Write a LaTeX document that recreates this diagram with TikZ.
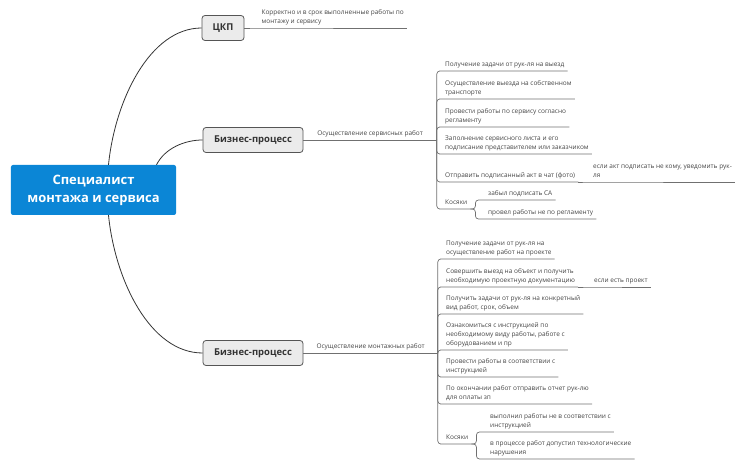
\documentclass[tikz,border=0pt]{standalone}
\usepackage{fontspec}
\setmainfont{Open Sans}
\usetikzlibrary{calc,positioning}
\definecolor{hubblue}{HTML}{0B86D6}
\definecolor{topicgray}{HTML}{EBEBEB}
\definecolor{edgegray}{HTML}{555555}
\definecolor{leafgray}{HTML}{454545}
\definecolor{linegray}{HTML}{707070}

\begin{document}
\begin{tikzpicture}[x=1bp, y=-1bp]
    % Styles
    \tikzstyle{hub} = [rectangle, fill=hubblue, text=white, rounded corners=2bp,
        minimum width=165bp, minimum height=50bp, align=center,
        font=\fontsize{13}{18}\selectfont\bfseries]
    \tikzstyle{topic} = [rectangle, draw=edgegray, fill=topicgray, rounded corners=3bp,
        line width=0.8bp, minimum height=25bp, inner xsep=4bp, text=black!80,
        font=\fontsize{9.5}{11}\selectfont\bfseries]
    \tikzstyle{leaf} = [anchor=south west, inner xsep=3bp, inner ysep=2.5bp,
        text depth=1.8bp, align=left, text=leafgray, font=\fontsize{6.5}{8.8}\selectfont]
    \tikzstyle{curve} = [draw=black!80, line width=0.8bp]
    \tikzstyle{fork} = [draw=linegray, line width=0.7bp, rounded corners=3bp]

    \useasboundingbox (0,0) rectangle (751,465);

    % === CENTRE AND MAIN TOPICS ===
    \node [hub] (hub) at (93.5,190) {Специалист\\монтажа и сервиса};
    \node [topic, minimum width=42bp] (ckp) at (223,28) {ЦКП};
    \node [topic, minimum width=100bp] (bpservice) at (253,140) {Бизнес-процесс};
    \node [topic, minimum width=100bp] (bpmount) at (253,353) {Бизнес-процесс};

    % ЦКП
    \node [leaf] (ckpresult) at ($(ckp.east)+(14,0)$) {Корректно и в срок выполненные работы по\\монтажу и сервису};

    % === SERVICE BRANCH ===
    \node [leaf, minimum width=133bp, align=center] (svcwork) at (bpservice.east) {Осуществление сервисных работ};
    \node [leaf] (svcget) at (442,71) {Получение задачи от рук-ля на выезд};
    \node [leaf] (svcdrive) at (442,99) {Осуществление выезда на собственном\\транспорте};
    \node [leaf] (svcdo) at (442,127) {Провести работы по сервису согласно\\регламенту};
    \node [leaf] (svcsheet) at (442,154) {Заполнение сервисного листа и его\\подписание представителем или заказчиком};
    \node [leaf] (svcact) at (442,182) {Отправить подписанный акт в чат (фото)};
    \node [leaf] (svcnote) at (590,182) {если акт подписать не кому, уведомить рук-\\ля};
    \node [leaf] (svcfault) at (442,209) {Косяки};
    \coordinate (svcfork) at ($(svcfault.south east)+(5,0)$);
    \node [leaf] (svcfaulta) at (485,200) {забыл подписать СА};
    \node [leaf] (svcfaultb) at (485,219) {провел работы не по регламенту};

    % === MOUNTING BRANCH ===
    \node [leaf, minimum width=134bp, align=center] (mntwork) at (bpmount.east) {Осуществление монтажных работ};
    \node [leaf] (mntget) at (443,259) {Получение задачи от рук-ля на\\осуществление работ на проекте};
    \node [leaf] (mntvisit) at (443,287) {Совершить выезд на объект и получить\\необходимую проектную документацию};
    \node [leaf] (mntnote) at (591,287) {если есть проект};
    \node [leaf] (mnttask) at (443,314) {Получить задачи от рук-ля на конкретный\\вид работ, срок, объем};
    \node [leaf] (mntread) at (443,350) {Ознакомиться с инструкцией по\\необходимому виду работы, работе с\\оборудованием и пр};
    \node [leaf] (mntdo) at (443,377) {Провести работы в соответствии с\\инструкцией};
    \node [leaf] (mntreport) at (443,404) {По окончании работ отправить отчет рук-лю\\для оплаты зп};
    \node [leaf] (mntfault) at (443,444) {Косяки};
    \coordinate (mntfork) at ($(mntfault.south east)+(5,0)$);
    \node [leaf] (mntfaulta) at (487,432) {выполнил работы не в соответствии с\\инструкцией};
    \node [leaf] (mntfaultb) at (487,459) {в процессе работ допустил технологические\\нарушения};

    % === CURVES FROM THE CENTRE ===
    \draw [curve] ($(hub.north)+(15,0)$) .. controls (115,100) and (150,28) .. (ckp.west);
    \draw [curve] ($(hub.north)+(63,0)$) .. controls (165,148) and (185,140) .. (bpservice.west);
    \draw [curve] ($(hub.south)+(15,0)$) .. controls (115,280) and (150,353) .. (bpmount.west);

    % === LINES: ЦКП ===
    \draw [fork] (ckp.east) -- (ckpresult.south west) -- (ckpresult.south east);

    % === LINES: Service ===
    \draw [fork] (bpservice.east) -- (svcwork.south east);
    \draw [fork] (svcwork.south east) |- (svcget.south west) -- (svcget.south east);
    \draw [fork] (svcwork.south east) |- (svcdrive.south west) -- (svcdrive.south east);
    \draw [fork] (svcwork.south east) |- (svcdo.south west) -- (svcdo.south east);
    \draw [fork] (svcwork.south east) |- (svcsheet.south west) -- (svcsheet.south east);
    \draw [fork] (svcwork.south east) |- (svcact.south west) -- (svcact.south east);
    \draw [fork] (svcwork.south east) |- (svcfault.south west) -- (svcfault.south east);
    \draw [fork] (svcact.south east) -- (svcnote.south west) -- (svcnote.south east);
    \draw [fork] (svcfault.south east) -- (svcfork) |- (svcfaulta.south west) -- (svcfaulta.south east);
    \draw [fork] (svcfault.south east) -- (svcfork) |- (svcfaultb.south west) -- (svcfaultb.south east);

    % === LINES: Mounting ===
    \draw [fork] (bpmount.east) -- (mntwork.south east);
    \draw [fork] (mntwork.south east) |- (mntget.south west) -- (mntget.south east);
    \draw [fork] (mntwork.south east) |- (mntvisit.south west) -- (mntvisit.south east);
    \draw [fork] (mntwork.south east) |- (mnttask.south west) -- (mnttask.south east);
    \draw [fork] (mntwork.south east) |- (mntread.south west) -- (mntread.south east);
    \draw [fork] (mntwork.south east) |- (mntdo.south west) -- (mntdo.south east);
    \draw [fork] (mntwork.south east) |- (mntreport.south west) -- (mntreport.south east);
    \draw [fork] (mntwork.south east) |- (mntfault.south west) -- (mntfault.south east);
    \draw [fork] (mntvisit.south east) -- (mntnote.south west) -- (mntnote.south east);
    \draw [fork] (mntfault.south east) -- (mntfork) |- (mntfaulta.south west) -- (mntfaulta.south east);
    \draw [fork] (mntfault.south east) -- (mntfork) |- (mntfaultb.south west) -- (mntfaultb.south east);

\end{tikzpicture}
\end{document}
